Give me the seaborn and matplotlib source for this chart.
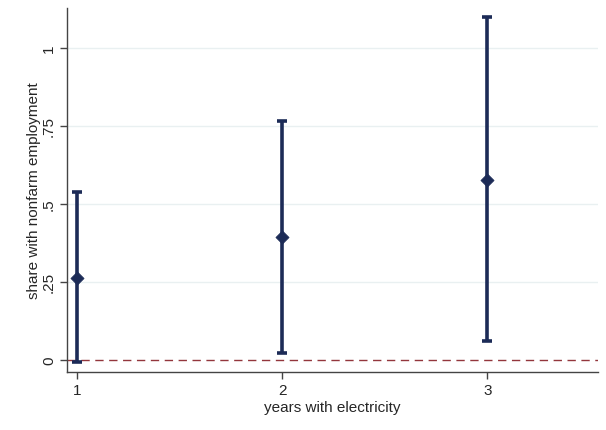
import matplotlib
matplotlib.use("Agg")
import matplotlib.pyplot as plt
import seaborn as sns
import pandas as pd

years = [1, 2, 3]
estimate = [0.263, 0.394, 0.577]
lower = [-0.009, 0.022, 0.058]
upper = [0.537, 0.766, 1.099]
ytick_vals = [0, 0.25, 0.5, 0.75, 1]
ytick_labels = ["0", ".25", ".5", ".75", "1"]
xtick_vals = [1, 2, 3]

df = pd.DataFrame({"year": years, "est": estimate, "lo": lower, "hi": upper})

sns.set_style("white")
plt.rcParams["font.family"] = ["Liberation Sans", "DejaVu Sans"]

fig = plt.figure(figsize=(6.06, 4.31), dpi=100)
ax = fig.add_axes([0.1106, 0.1346, 0.8764, 0.8445])

navy = "#1c2b57"
for v in ytick_vals[1:]:
    ax.axhline(v, color="#e9f0f1", lw=1.0, zorder=0)
ax.axhline(0, color="#93363c", lw=1.0, ls=(0, (6, 4)), zorder=1)

ax.errorbar(df["year"], df["est"],
            yerr=[df["est"] - df["lo"], df["hi"] - df["est"]],
            fmt="none", ecolor=navy, elinewidth=2.6, capsize=3.6, capthick=2.6, zorder=2)
sns.scatterplot(data=df, x="year", y="est", marker="D", s=45, color=navy,
                edgecolor=navy, linewidth=0.5, ax=ax, zorder=3, legend=False)

ax.set_xlim(0.951, 3.54)
ax.set_ylim(-0.04, 1.128)
ax.set_xticks(xtick_vals)
ax.set_xticklabels([str(v) for v in xtick_vals])
ax.set_yticks(ytick_vals)
ax.set_yticklabels(ytick_labels, rotation=90, va="center")
ax.set_xlabel("years with electricity", fontsize=11, labelpad=2)
ax.set_ylabel("share with nonfarm employment", fontsize=11, labelpad=1)
ax.tick_params(axis="both", direction="out", length=5, width=1, color="#444444",
               labelsize=11, pad=3, bottom=True, left=True)
for s in ["top", "right"]:
    ax.spines[s].set_visible(False)
for s in ["left", "bottom"]:
    ax.spines[s].set_color("#444444")
    ax.spines[s].set_linewidth(1.0)

fig.savefig("out.png", dpi=100)
